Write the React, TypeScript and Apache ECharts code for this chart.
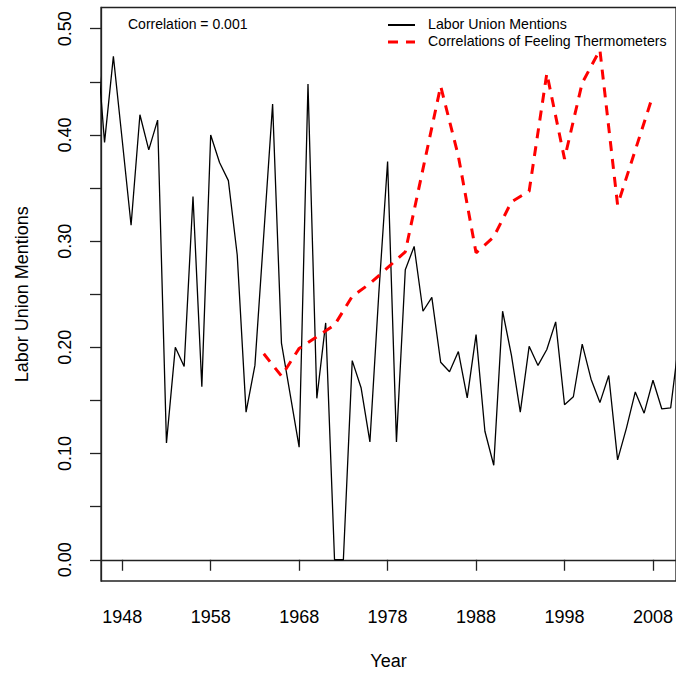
import React, { useEffect, useRef } from "react";
import * as echarts from "echarts";

const laborYears = [
  1945, 1946, 1947, 1948, 1949, 1950, 1951, 1952, 1953, 1954, 1955, 1956, 1957, 1958, 1959,
  1960, 1961, 1962, 1963, 1964, 1965, 1966, 1967, 1968, 1969, 1970, 1971, 1972, 1973, 1974,
  1975, 1976, 1977, 1978, 1979, 1980, 1981, 1982, 1983, 1984, 1985, 1986, 1987, 1988, 1989,
  1990, 1991, 1992, 1993, 1994, 1995, 1996, 1997, 1998, 1999, 2000, 2001, 2002, 2003, 2004,
  2005, 2006, 2007, 2008, 2009, 2010, 2011,
];
const laborValues = [
  0.5, 0.393, 0.474, 0.395, 0.315, 0.419, 0.386, 0.414, 0.11, 0.2, 0.182, 0.342, 0.163, 0.4, 0.374,
  0.357, 0.287, 0.139, 0.183, 0.306, 0.429, 0.204, 0.155, 0.106, 0.448, 0.152, 0.223, 0.0, 0.0, 0.1875,
  0.162, 0.111, 0.25, 0.375, 0.111, 0.273, 0.295, 0.234, 0.247, 0.186, 0.177, 0.196, 0.1525, 0.212, 0.121,
  0.089, 0.234, 0.1925, 0.139, 0.201, 0.183, 0.198, 0.224, 0.146, 0.1535, 0.203, 0.17, 0.148, 0.1735, 0.094,
  0.124, 0.158, 0.138, 0.169, 0.142, 0.143, 0.21,
];

const thermoYears = [
  1964, 1966, 1968, 1970, 1972, 1974, 1976, 1978, 1980, 1982, 1984, 1986, 1988, 1990, 1992,
  1994, 1996, 1998, 2000, 2002, 2004, 2008,
];
const thermoValues = [
  0.194, 0.173, 0.199, 0.21, 0.221, 0.248, 0.26, 0.275, 0.29, 0.368, 0.446, 0.38, 0.289, 0.304, 0.337,
  0.347, 0.458, 0.3775, 0.449, 0.48, 0.334, 0.4375,
];

const xTickValues = [1948, 1958, 1968, 1978, 1988, 1998, 2008];
const yTickValues = [0, 0.05, 0.1, 0.15, 0.2, 0.25, 0.3, 0.35, 0.4, 0.45, 0.5];
const yLabelValues = [0, 0.1, 0.2, 0.3, 0.4, 0.5];

const seriesNames = ["Labor Union Mentions", "Correlations of Feeling Thermometers"];
const correlationText = "Correlation = 0.001";

const FONT = "'Liberation Sans', Arial, Helvetica, sans-serif";

export default function App() {
  const ref = useRef<HTMLDivElement>(null);

  useEffect(() => {
    if (!ref.current) return;
    const chart = echarts.init(ref.current, null, { renderer: "svg" });
    const axisColor = "#222";
    chart.setOption({
      animation: false,
      backgroundColor: "#fff",
      textStyle: { fontFamily: FONT },
      grid: {
        left: 101,
        right: -3,
        top: 7.5,
        bottom: 91,
        show: true,
        borderColor: axisColor,
        borderWidth: 1.3,
        containLabel: false,
      },
      xAxis: {
        type: "value",
        min: 1945.6,
        max: 2010.6,
        name: "Year",
        nameLocation: "middle",
        nameGap: 71,
        nameTextStyle: { fontSize: 18, color: "#000", fontFamily: FONT },
        axisLine: { show: true, lineStyle: { color: axisColor, width: 1.3 } },
        axisTick: {
          show: true,
          length: 11,
          customValues: xTickValues,
          lineStyle: { color: axisColor, width: 1.3 },
        },
        axisLabel: {
          customValues: xTickValues,
          margin: 27,
          fontSize: 18,
          color: "#000",
          fontFamily: FONT,
          formatter: (v: number) => String(v),
        },
        splitLine: { show: false },
      },
      yAxis: {
        type: "value",
        min: -0.02,
        max: 0.52,
        name: "Labor Union Mentions",
        nameLocation: "middle",
        nameGap: 70,
        nameRotate: 90,
        nameTextStyle: { fontSize: 18, color: "#000", fontFamily: FONT },
        axisLine: { show: true, lineStyle: { color: axisColor, width: 1.3 } },
        axisTick: {
          show: true,
          length: 11,
          customValues: yTickValues,
          lineStyle: { color: axisColor, width: 1.3 },
        },
        axisLabel: {
          customValues: yLabelValues,
          rotate: 90,
          margin: 27,
          fontSize: 18,
          color: "#000",
          fontFamily: FONT,
          formatter: (v: number) => v.toFixed(2),
        },
        splitLine: { show: false },
      },
      series: [
        {
          name: seriesNames[0],
          type: "line",
          data: laborYears.map((y, i) => [y, laborValues[i]]),
          symbol: "none",
          clip: true,
          lineStyle: { color: "#000", width: 1.3 },
          itemStyle: { color: "#000" },
        },
        {
          name: seriesNames[1],
          type: "line",
          data: thermoYears.map((y, i) => [y, thermoValues[i]]),
          symbol: "none",
          clip: true,
          lineStyle: { color: "#ff0000", width: 3, type: [10, 8], cap: "butt" },
          itemStyle: { color: "#ff0000" },
        },
      ],
      graphic: [
        {
          type: "text",
          left: 128,
          top: 17,
          style: { text: correlationText, fontSize: 14, fill: "#000", fontFamily: FONT },
        },
        {
          type: "line",
          shape: { x1: 388, y1: 25, x2: 415, y2: 25 },
          style: { stroke: "#000", lineWidth: 2 },
        },
        {
          type: "text",
          left: 428,
          top: 17,
          style: { text: seriesNames[0], fontSize: 14.2, fill: "#000", fontFamily: FONT },
        },
        {
          type: "line",
          shape: { x1: 388, y1: 42, x2: 415, y2: 42 },
          style: { stroke: "#ff0000", lineWidth: 3, lineDash: [10, 8] },
        },
        {
          type: "text",
          left: 428,
          top: 34,
          style: { text: seriesNames[1], fontSize: 14.2, fill: "#000", fontFamily: FONT },
        },
      ],
    });
    return () => chart.dispose();
  }, []);

  return (
    <div
      ref={ref}
      style={{ position: "fixed", left: 0, top: 0, width: 676, height: 675, background: "#fff" }}
    />
  );
}
